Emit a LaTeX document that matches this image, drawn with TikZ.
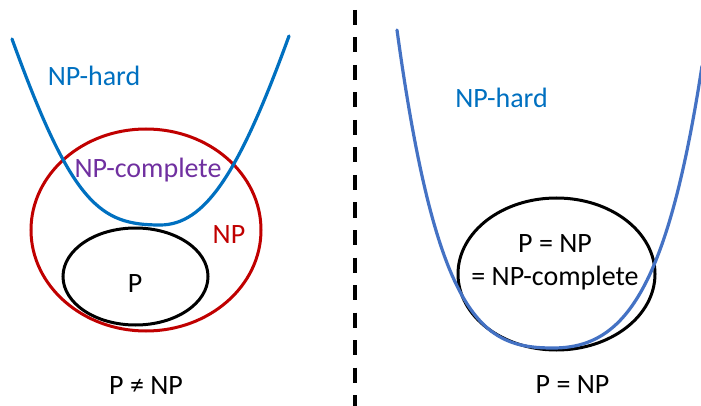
\documentclass[tikz,border=0pt]{standalone}
\usepackage{fontspec}
\setmainfont{Carlito}
\usepackage{xcolor}
\usetikzlibrary{shapes.geometric,positioning}
\definecolor{nphblue}{RGB}{0,112,192}
\definecolor{nphblue2}{RGB}{68,114,196}
\definecolor{npred}{RGB}{192,0,0}
\definecolor{npcpurple}{RGB}{112,48,160}

\begin{document}
\begin{tikzpicture}[
    x=1pt, y=-1pt,
    setbox/.style={draw, ellipse, line width=3pt, inner sep=0pt},
    hardcurve/.style={line width=3.2pt, line cap=round},
    lbl/.style={font=\fontsize{28}{33}\selectfont, inner sep=0pt, anchor=base},
    divider/.style={line width=4pt, dash pattern=on 15pt off 12.5pt}
]
    \useasboundingbox (0,0) rectangle (701,406);

    % Left: P != NP
    \node[setbox, npred, minimum width=230pt, minimum height=202pt] (npset) at (146,230) {};
    \node[setbox, black, minimum width=145pt, minimum height=97pt] (pset) at (135.5,276.5) {};
    \coordinate (hl0) at (12,39);
    \coordinate (hl1) at (160,225);
    \coordinate (hl2) at (289,36);
    \draw[hardcurve, nphblue] (hl0) .. controls (72,204.6) and (100,225) .. (hl1)
        .. controls (205,225) and (239,173.5) .. (hl2);

    \node[lbl, nphblue] (hardl) at (94,86) {NP-hard};
    \node[lbl, npcpurple] (npcl) at (148,178) {NP-complete};
    \node[lbl, npred] (npl) at (229,243) {NP};
    \node[lbl] (pl) at (135,292) {P};
    \node[lbl] (capl) at (146,394) {P ≠ NP};

    % Divider
    \coordinate (divtop) at (354.5,10);
    \coordinate (divbot) at (354.5,406);
    \draw[divider] (divtop) -- (divbot);

    % Right: P = NP
    \node[setbox, black, minimum width=197pt, minimum height=152pt] (eqset) at (556.5,274) {};
    \coordinate (hr0) at (397,30);
    \coordinate (hr1) at (553,348);
    \coordinate (hr2) at (702,66);
    \draw[hardcurve, nphblue2] (hr0) .. controls (437,322) and (483,348) .. (hr1)
        .. controls (623,348) and (667,293.5) .. (hr2);

    \node[lbl, nphblue] (hardr) at (501.5,108) {NP-hard};
    \node[lbl, anchor=center, align=center] (eql) at (555,262) {P = NP\\= NP-complete};
    \node[lbl] (capr) at (572.5,393) {P = NP};
\end{tikzpicture}
\end{document}
